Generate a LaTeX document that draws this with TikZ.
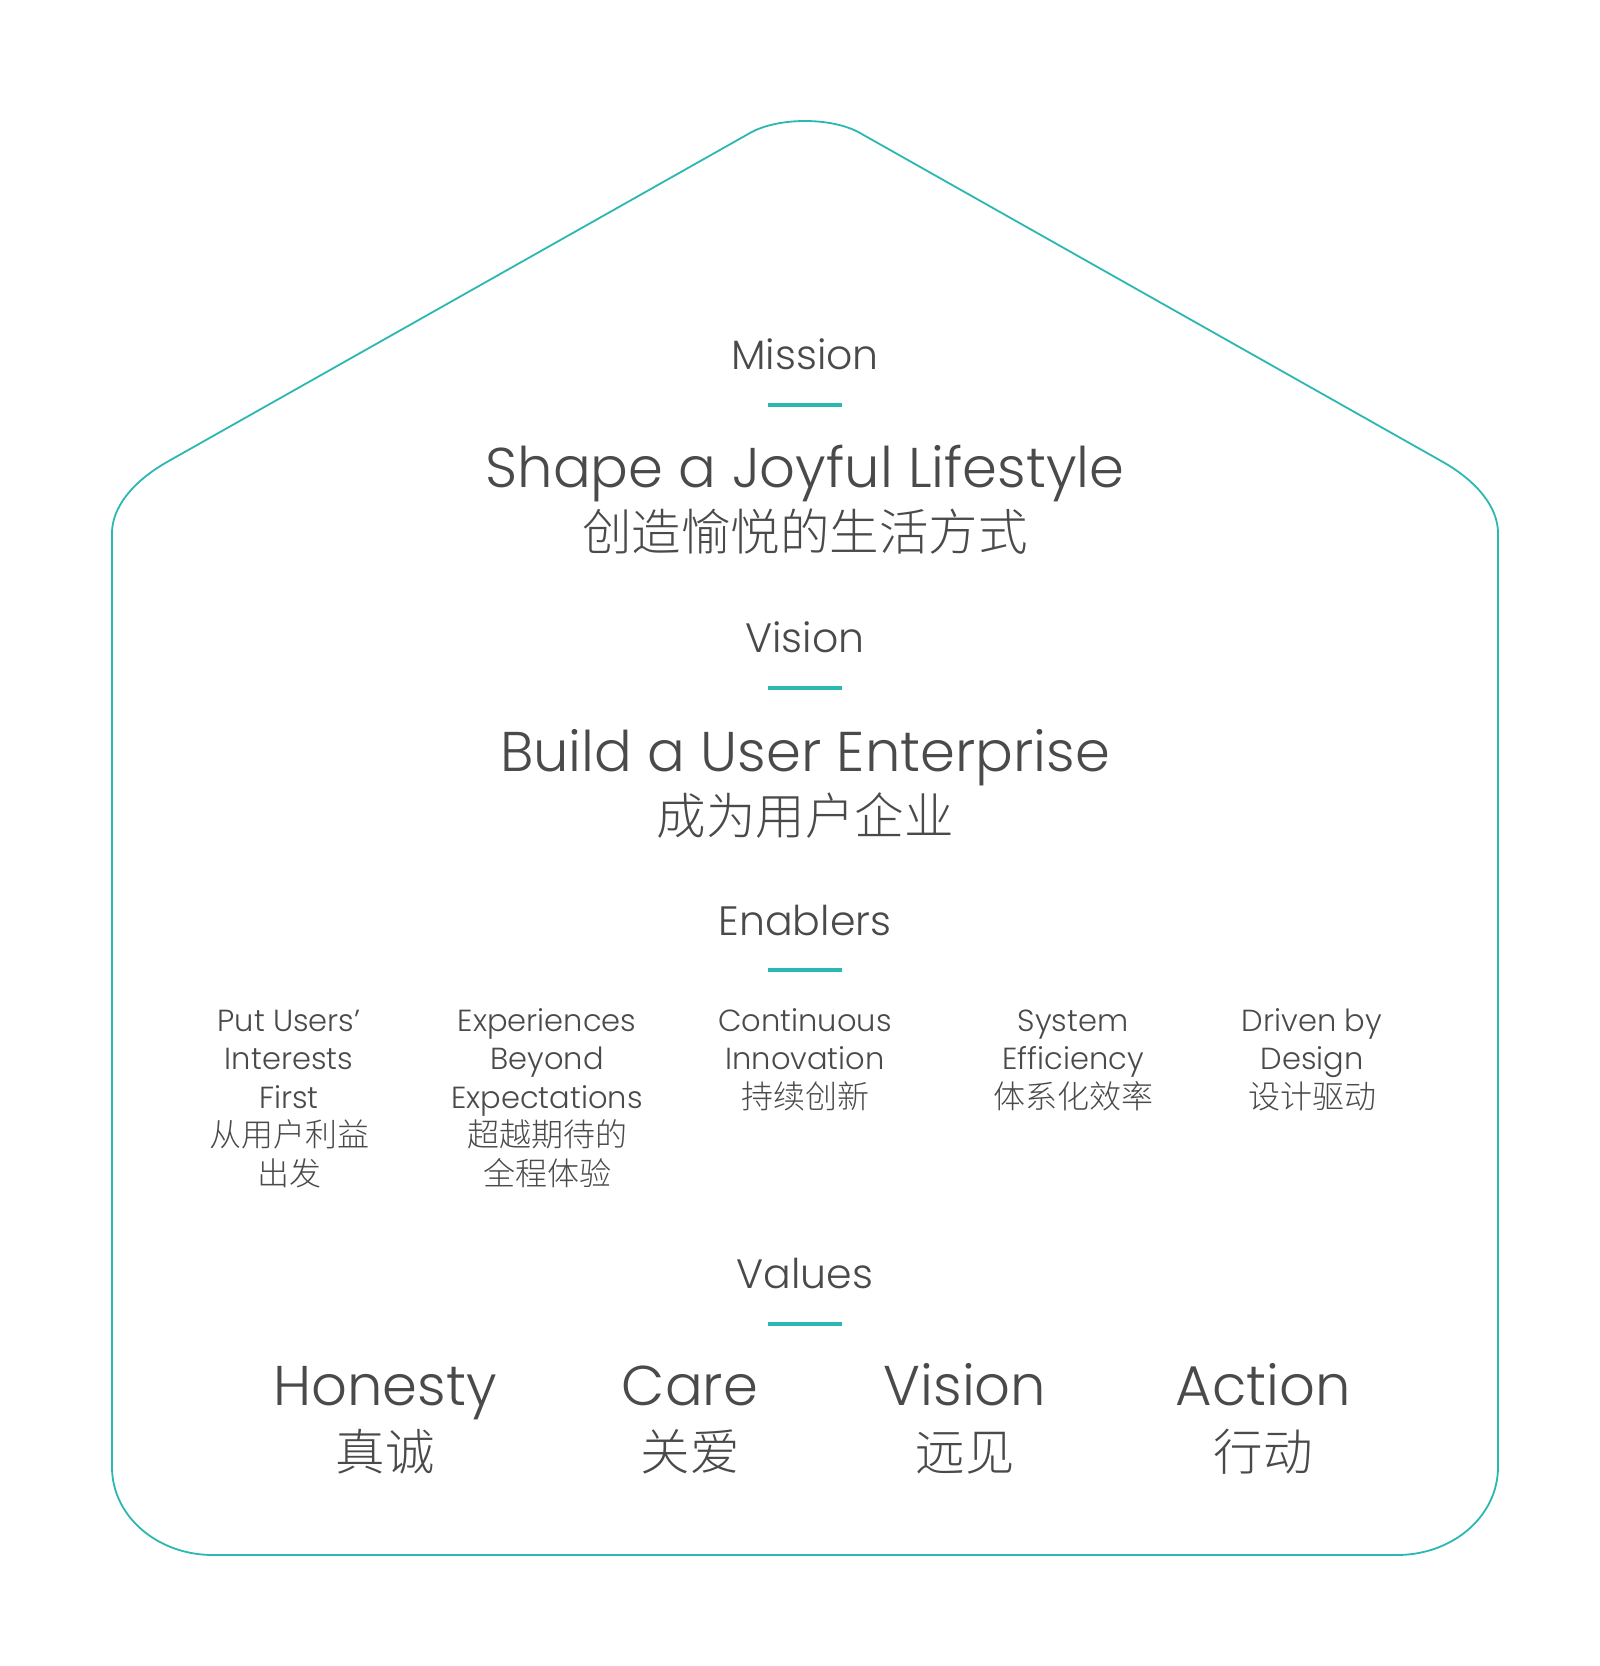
\documentclass[tikz,border=0pt]{standalone}
\usepackage{fontspec}
\IfFontExistsTF{Poppins Light}{\setmainfont{Poppins Light}}{%
 \IfFontExistsTF{Poppins-Light.ttf}{\setmainfont{Poppins-Light.ttf}}{%
  \IfFontExistsTF{Poppins-Light.otf}{\setmainfont{Poppins-Light.otf}}{%
   \IfFontExistsTF{Poppins ExtraLight}{\setmainfont{Poppins ExtraLight}}{\setmainfont{Poppins}}}}}
\IfFontExistsTF{Noto Sans CJK SC Light}{\newfontfamily\cjk{Noto Sans CJK SC Light}}{%
 \IfFontExistsTF{Noto Sans CJK SC DemiLight}{\newfontfamily\cjk{Noto Sans CJK SC DemiLight}}{\newfontfamily\cjk{Noto Sans CJK SC}}}
\definecolor{teal}{HTML}{2BB8B3}
\definecolor{txt}{HTML}{4A4A4A}
\tikzset{
  house/.style={draw=teal, line width=1.8pt, line join=round},
  bar/.style={draw=teal, line width=3.6pt},
  head/.style={anchor=base, inner sep=0pt, text=txt, font=\fontsize{41}{41}\selectfont},
  big/.style={anchor=base, inner sep=0pt, text=txt, font=\fontsize{56}{56}\selectfont},
  bigcjk/.style={anchor=base, inner sep=0pt, text=txt, font=\cjk\fontsize{49.5}{49.5}\selectfont},
  small/.style={anchor=base, inner sep=0pt, text=txt, align=center, font=\fontsize{30.5}{38.5}\selectfont},
}
\newcommand{\cjksm}[1]{{\cjk\fontsize{32}{38.5}\selectfont #1}}
\begin{document}
\begin{tikzpicture}[x=1pt, y=-1pt]
\useasboundingbox[fill=white] (0,0) rectangle (1600,1666);
% house outline
\draw[house] (112,533) -- (112,1467) .. controls (112,1516) and (157,1555) .. (213,1555)
  -- (1397,1555) .. controls (1453,1555) and (1498,1516) .. (1498,1467)
  -- (1498,533) .. controls (1498,508) and (1478,482) .. (1443,462)
  -- (860,133) .. controls (832,117) and (778,117) .. (750,133)
  -- (167,462) .. controls (132,482) and (112,508) .. cycle;
% Mission
\node[head] (mission) at (805,369) {Mission};
\coordinate (b1l) at (768,405); \coordinate (b1r) at (842,405);
\draw[bar] (b1l) -- (b1r);
\node[big] (shape) at (805,487) {Shape a Joyful Lifestyle};
\node[bigcjk] (shapecn) at (805,550) {创造愉悦的生活方式};
% Vision
\node[head] (vision) at (805,652) {Vision};
\coordinate (b2l) at (768,688); \coordinate (b2r) at (842,688);
\draw[bar] (b2l) -- (b2r);
\node[big] (build) at (805,771) {Build a User Enterprise};
\node[bigcjk] (buildcn) at (805,834) {成为用户企业};
% Enablers
\node[head] (enablers) at (805,935) {Enablers};
\coordinate (b3l) at (768,970); \coordinate (b3r) at (842,970);
\draw[bar] (b3l) -- (b3r);
% multi-line nodes: base anchor sits on the last line
\node[small] (en1) at (289,1185) {Put Users’\\Interests\\First\\\cjksm{从用户利益}\\\cjksm{出发}};
\node[small] (en2) at (547,1185) {Experiences\\Beyond\\Expectations\\\cjksm{超越期待的}\\\cjksm{全程体验}};
\node[small] (en3) at (805,1108) {Continuous\\Innovation\\\cjksm{持续创新}};
\node[small] (en4) at (1073,1108) {System\\Efficiency\\\cjksm{体系化效率}};
\node[small] (en5) at (1312,1108) {Driven by\\Design\\\cjksm{设计驱动}};
% Values
\node[head] (values) at (805,1288) {Values};
\coordinate (b4l) at (768,1324); \coordinate (b4r) at (842,1324);
\draw[bar] (b4l) -- (b4r);
\node[big] (v1) at (385,1405) {Honesty};
\node[big] (v2) at (690,1405) {Care};
\node[big] (v3) at (965,1405) {Vision};
\node[big] (v4) at (1263,1405) {Action};
\node[bigcjk] (v1c) at (385,1470) {真诚};
\node[bigcjk] (v2c) at (690,1470) {关爱};
\node[bigcjk] (v3c) at (965,1470) {远见};
\node[bigcjk] (v4c) at (1263,1470) {行动};
\end{tikzpicture}
\end{document}
